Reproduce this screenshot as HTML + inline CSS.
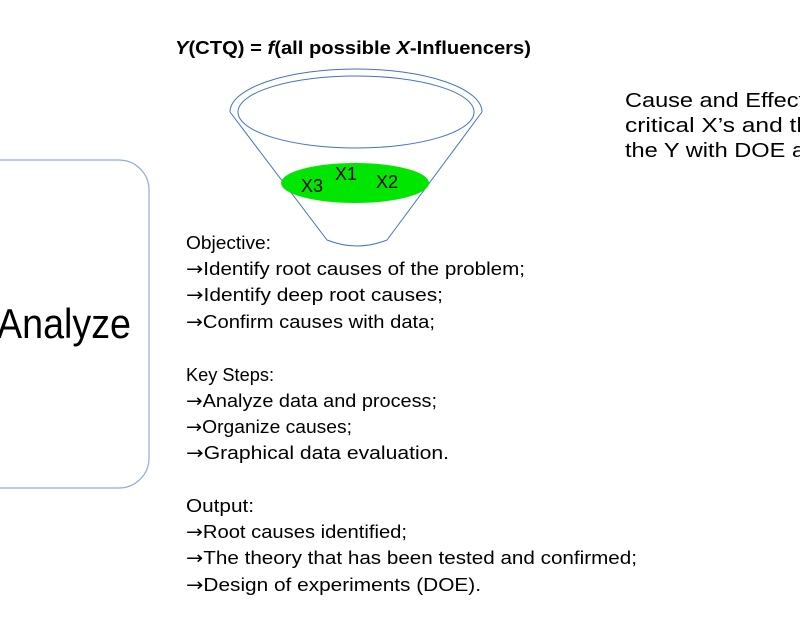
<!DOCTYPE html>
<html><head><meta charset="utf-8"><style>
html,body{margin:0;padding:0;background:#fff;}
svg{display:block;}
text{font-family:"Liberation Sans",sans-serif;fill:#000;}
.ar{font-family:"DejaVu Sans",sans-serif;}
</style></head><body>
<svg width="800" height="640" viewBox="0 0 800 640" xmlns="http://www.w3.org/2000/svg">
<rect x="-40" y="160" width="189" height="328" rx="30" ry="30" fill="none" stroke="#8faadc" stroke-width="1.2"/>
<text x="131" y="338" font-size="42" text-anchor="end" textLength="134" lengthAdjust="spacingAndGlyphs">Analyze</text>

<text x="175" y="54" font-size="18" font-weight="bold" textLength="356" lengthAdjust="spacingAndGlyphs"><tspan font-style="italic">Y</tspan>(CTQ) = <tspan font-style="italic">f</tspan>(all possible <tspan font-style="italic">X</tspan>-Influencers)</text>

<g fill="none" stroke="#4472c4" stroke-width="1">
<path d="M230,112 A126,43 0 0 1 482,112"/>
<path d="M230,112 L327,240 Q357,252 387,240 L482,112"/>
<ellipse cx="356" cy="112" rx="118" ry="36"/>
</g>
<ellipse cx="355" cy="183" rx="74" ry="20" fill="#00e600"/>
<g font-size="18">
<text x="301" y="192">X3</text>
<text x="335" y="180">X1</text>
<text x="376" y="188">X2</text>
</g>

<g font-size="20">
<text x="625" y="107" textLength="180" lengthAdjust="spacingAndGlyphs">Cause and Effect</text>
<text x="625" y="132" textLength="185" lengthAdjust="spacingAndGlyphs">critical X’s and th</text>
<text x="625" y="157" textLength="180" lengthAdjust="spacingAndGlyphs">the Y with DOE a</text>
</g>

<g font-size="18">
<text x="186" y="249" textLength="85" lengthAdjust="spacingAndGlyphs">Objective:</text>
<text x="186" y="275" textLength="339" lengthAdjust="spacingAndGlyphs"><tspan class="ar">→</tspan>Identify root causes of the problem;</text>
<text x="186" y="301" textLength="257" lengthAdjust="spacingAndGlyphs"><tspan class="ar">→</tspan>Identify deep root causes;</text>
<text x="186" y="328" textLength="249" lengthAdjust="spacingAndGlyphs"><tspan class="ar">→</tspan>Confirm causes with data;</text>
<text x="186" y="381" textLength="88" lengthAdjust="spacingAndGlyphs">Key Steps:</text>
<text x="186" y="407" textLength="251" lengthAdjust="spacingAndGlyphs"><tspan class="ar">→</tspan>Analyze data and process;</text>
<text x="186" y="433" textLength="166" lengthAdjust="spacingAndGlyphs"><tspan class="ar">→</tspan>Organize causes;</text>
<text x="186" y="459" textLength="263" lengthAdjust="spacingAndGlyphs"><tspan class="ar">→</tspan>Graphical data evaluation.</text>
<text x="186" y="512" textLength="68" lengthAdjust="spacingAndGlyphs">Output:</text>
<text x="186" y="538" textLength="221" lengthAdjust="spacingAndGlyphs"><tspan class="ar">→</tspan>Root causes identified;</text>
<text x="186" y="564" textLength="451" lengthAdjust="spacingAndGlyphs"><tspan class="ar">→</tspan>The theory that has been tested and confirmed;</text>
<text x="186" y="591" textLength="295" lengthAdjust="spacingAndGlyphs"><tspan class="ar">→</tspan>Design of experiments (DOE).</text>
</g>
</svg>
</body></html>
